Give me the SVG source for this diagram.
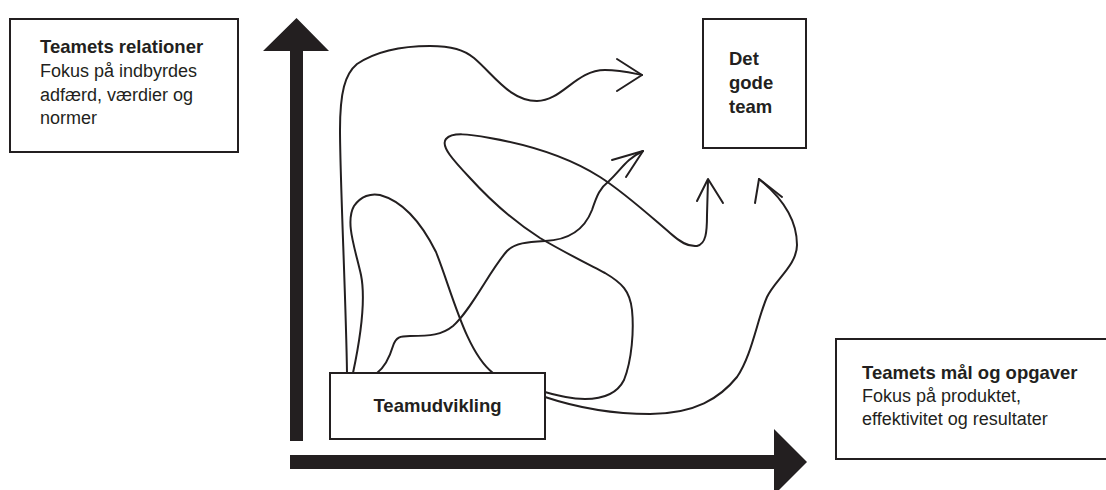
<svg xmlns="http://www.w3.org/2000/svg" width="1106" height="490" viewBox="0 0 1106 490">
<style>
.box{fill:#fff;stroke:#231f20;stroke-width:2}
.t{font-family:"Liberation Sans",Arial,sans-serif;font-size:18px;fill:#231f20}
.b{font-weight:bold;font-size:18.5px}
.c{fill:none;stroke:#231f20;stroke-width:2;stroke-linecap:round;stroke-linejoin:round}
.ax{fill:#231f20}
</style>
<rect width="1106" height="490" fill="#fff"/>
<g id="axes">
<polygon class="ax" points="290,441 303,441 303,51 329,51 296.5,18 263,51 290,51"/>
<polygon class="ax" points="290,455 774,455 774,429 807,462 774,495 774,469 290,469"/>
</g>
<g id="connectors">
<path class="c" d="M347,373 C346,300 340,180 340,130 C340,92 345,74 357,64 C375,52 400,46 430,46 C452,46 464,50 474,58 C494,75 510,101 537,101 C562,101 576,70 605,70 C620,70 632,73 642,75"/>
<path class="c" d="M617,59 L642,75 L617,91"/>
<path class="c" d="M353,373 C360,340 366,300 361,275 C355,248 345,222 354,206 C361,196 371,193 380,195 C402,201 421,222 436,252 C452,292 466,352 493,373"/>
<path class="c" d="M377,373 C386,366 390,356 393,346 C396,337 400,336 410,336 C430,336 442,335 453,326 C472,309 490,270 507,251 C515,243 527,242 545,241 C570,240 585,228 592,210 C597,195 600,188 609,181 C621,170 626,159 643,151"/>
<path class="c" d="M612,160 L643,151 L626,177"/>
<path class="c" d="M545,392 C560,396 571,399 585,399 C605,399 618,392 624,380 C632,360 634,330 632,310 C630,291 622,283 605,273 C580,260 562,251 540,238 C515,222 490,200 470,178 C454,161 440,146 446,139 C452,132 468,134 490,138 C530,145 570,158 600,177 C625,193 650,216 670,233 C680,242 688,247 697,246 C706,244 707,232 707,215 L708,180"/>
<path class="c" d="M697,201 L708,179 L723,203"/>
<path class="c" d="M545,397 C575,407 610,414 650,414 C695,414 720,398 737,377 C752,355 757,320 767,297 C775,280 797,265 797,245 C797,222 785,200 759,179"/>
<path class="c" d="M755,203 L759,179 L782,197"/>
</g>
<g id="node-relationer">
<rect class="box" x="10" y="19" width="228" height="133"/>
<text class="t b" x="40" y="53">Teamets relationer</text>
<text class="t" x="40" y="77">Fokus på indbyrdes</text>
<text class="t" x="40" y="101">adfærd, værdier og</text>
<text class="t" x="40" y="124">normer</text>
</g>
<g id="node-godeteam">
<rect class="box" x="703" y="19" width="103" height="129"/>
<text class="t b" x="729" y="65">Det</text>
<text class="t b" x="729" y="89">gode</text>
<text class="t b" x="729" y="113">team</text>
</g>
<g id="node-teamudvikling">
<rect class="box" x="330" y="373" width="215" height="66"/>
<text class="t b" x="437.5" y="412" text-anchor="middle">Teamudvikling</text>
</g>
<g id="node-maal">
<rect class="box" x="836" y="339" width="280" height="120"/>
<text class="t b" x="862" y="379">Teamets mål og opgaver</text>
<text class="t" x="862" y="402">Fokus på produktet,</text>
<text class="t" x="862" y="425">effektivitet og resultater</text>
</g>
</svg>
